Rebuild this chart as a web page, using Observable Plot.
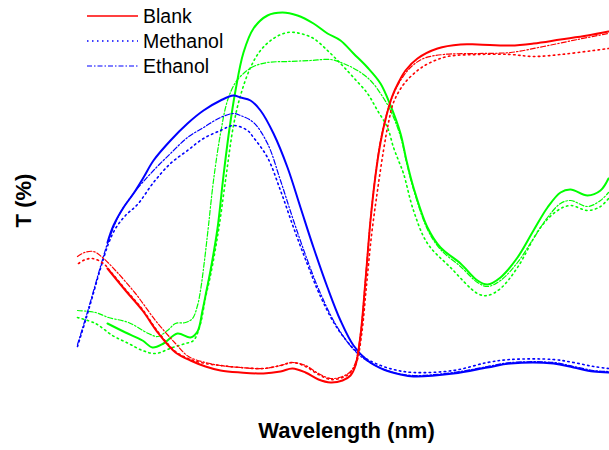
<!DOCTYPE html>
<html>
<head>
<meta charset="utf-8">
<script src="https://cdn.jsdelivr.net/npm/d3@7"></script>
<script src="https://cdn.jsdelivr.net/npm/@observablehq/plot@0.6"></script>
<style>
  html, body { margin: 0; padding: 0; background: #fff; }
  #wrap { position: relative; width: 609px; height: 450px; font-family: "Liberation Sans", Arial, sans-serif; }
  #legend { position: absolute; left: 0; top: 0; }
</style>
</head>
<body>
<div id="wrap"><div id="chart"></div><svg id="legend" width="260" height="80"></svg></div>
<script>
// ---- data (wavelength in nm, transmittance in %) ----
const solvents = ["Blank", "Methanol", "Ethanol"];
const filterColors = ["#ff0000", "#00ff00", "#0000ff"];

// Red filter
const redBlankWl = [330,348,365,381,398,413,428,443,463,486,503,515,528,541,553,565,573,578,583,588,593,598,603,609,615,621,628,640,660,683,700,733,756,783,810,831];
const redBlankT  = [33,27.5,22.5,16.75,12,10,8.5,7.5,7,6.75,7.25,8,7,5.25,4.5,5,6.25,8.75,16.25,30,45,56.25,64.5,71.25,76.25,79.5,82.5,85.5,88,89,89,88.75,89.25,90.25,91.25,92.25];
const redMethWl  = [301,308,315,326,333,348,365,381,398,413,428,443,463,486,503,515,528,541,553,565,573,579,584,589,594,600,606,611,616,626,640,653,670,700,733,756,783,816,831];
const redMethT   = [34.25,35.25,35.5,34.25,32.25,27.75,22.75,17,12.25,10.25,9.25,8.75,8.25,8,8.75,9.5,8.5,6.5,5.25,5.75,7,9.5,16.25,28.75,41.25,52.5,62.5,69.5,74.5,79,82.5,84.5,86,86.5,86.5,86,86.5,87.5,88];
const redEthWl   = [300,307,316,325,338,358,378,398,411,428,443,463,486,503,515,528,541,553,565,573,578,583,588,593,598,603,609,615,623,633,646,666,700,733,766,800,831];
const redEthT    = [36,37,37.25,35.75,32.5,26.75,20,14.25,11,9.5,8.75,8.25,8,8.75,9.5,8.75,6.75,5.5,6,7.25,9.5,16.75,30.5,45.5,56.5,65,71.5,76,80,83.25,85.5,86.5,86.75,87,88.5,90.25,91.75];

// Green filter
const greenBlankWl = [330,348,365,375,386,400,413,420,425,429,433,440,446,452,458,466,476,490,505,520,536,550,563,576,590,603,613,623,629,636,650,663,683,700,710,723,740,756,770,783,793,810,823,831];
const greenBlankT  = [19.25,17,15,13.25,14.25,16.75,15.75,17.25,22.5,27.5,32.5,43,56.25,68,77.5,87,93,96.25,97,96.25,94.25,91.75,90,86.75,83.25,79.25,73.75,66.75,60,53.25,43.25,38.25,34.25,30,29,30.75,35.75,42.5,48.25,52,52.75,51.25,52.5,55.5];
const greenMethWl  = [300,318,335,351,365,378,395,408,416,423,428,433,441,448,456,463,473,483,496,510,523,536,550,563,576,590,600,610,616,621,626,636,650,673,700,710,723,740,763,780,793,810,823,831];
const greenMethT   = [20.75,19.25,16.25,14.25,12.5,11.75,13.25,14.25,15,19.25,25.75,31.25,42.5,55,68.75,76.25,83.25,87.5,90.5,92,91.75,90.5,87.5,84.25,80.75,76.75,72.5,68.25,63.25,60,56.75,47.5,39.25,33.25,26.75,26.25,28,33.25,43.25,47.5,48.75,47.5,48.5,50.5];
const greenEthWl   = [300,318,331,351,371,380,390,398,408,415,420,423,427,431,436,443,450,458,466,476,490,510,533,553,566,580,593,605,613,623,629,636,650,663,683,700,710,723,740,756,770,783,793,810,823,831];
const greenEthT    = [22.5,22,20.75,19.5,16.75,16,17.5,19.25,19.5,20.5,23.75,27.5,35,43.75,55,66.75,75,79.5,81.75,83.5,84.5,84.75,85,85.25,84.25,82.5,80,76,72.5,66,59.5,52.75,42.75,37.75,33.5,29.5,28.5,30,34.5,40.5,45.75,49.25,50,48.5,50,52];

// Blue filter
const blueBlankWl = [330,336,346,356,366,376,393,410,426,443,456,463,473,483,496,510,523,536,550,563,576,590,606,623,636,676,710,733,776,796,816,831];
const blueBlankT  = [39.5,43.75,48.25,51.75,55.75,60,65,69.25,72.5,75,76.25,75.75,75,72.5,66.75,58.25,48.25,38.25,28.25,20,13.75,10,7.75,6.5,6,6.75,8.25,9.25,9.25,8.25,7.25,7];
const blueMethWl  = [300,308,315,323,331,338,348,360,376,393,410,426,443,456,470,476,490,503,516,530,543,560,580,596,616,636,676,710,733,776,796,816,831];
const blueMethT   = [13.5,20,26,33,39.25,43,46.25,49,54.5,59.25,62.5,65.5,67.5,68.75,67.5,65.75,60.75,52.5,43.25,34,26,18,12,9.5,7.75,7,7.5,9.5,10.25,10.25,9.5,8.5,8];
const blueEthWl   = [300,308,315,323,331,343,360,376,393,410,426,443,456,463,476,490,503,516,530,543,560,580,596,616,636,676,710,733,776,796,816,831];
const blueEthT    = [14,20.5,26.5,33.5,40,47,53,57.5,61.75,65.75,68.25,70.75,71.75,71.25,69.5,64.25,55,45,35,26.75,18.25,11.75,9,7,6.25,7,8.5,9.5,9.5,8.5,7.5,7.25];

// ---- build series ----
const zip = (wl, t) => wl.map((w, i) => ({wl: w, T: t[i]}));
const series = [
  {color: filterColors[1], solvent: "Blank",    rows: zip(greenBlankWl, greenBlankT)},
  {color: filterColors[1], solvent: "Methanol", rows: zip(greenMethWl, greenMethT)},
  {color: filterColors[1], solvent: "Ethanol",  rows: zip(greenEthWl, greenEthT)},
  {color: filterColors[2], solvent: "Blank",    rows: zip(blueBlankWl, blueBlankT)},
  {color: filterColors[2], solvent: "Methanol", rows: zip(blueMethWl, blueMethT)},
  {color: filterColors[2], solvent: "Ethanol",  rows: zip(blueEthWl, blueEthT)},
  {color: filterColors[0], solvent: "Blank",    rows: zip(redBlankWl, redBlankT)},
  {color: filterColors[0], solvent: "Methanol", rows: zip(redMethWl, redMethT)},
  {color: filterColors[0], solvent: "Ethanol",  rows: zip(redEthWl, redEthT)}
];
const styleFor = {
  Blank:    {strokeWidth: 2,   strokeDasharray: null},
  Methanol: {strokeWidth: 1.6, strokeDasharray: "1.5,3.5"},
  Ethanol:  {strokeWidth: 1.2, strokeDasharray: "5,2,1.5,2"}
};

const marks = series.map(s => Plot.line(s.rows, {
  x: "wl", y: "T", stroke: s.color, curve: "catmull-rom",
  strokeWidth: styleFor[s.solvent].strokeWidth,
  strokeDasharray: styleFor[s.solvent].strokeDasharray
}));

marks.push(Plot.text(["Wavelength (nm)"], {
  frameAnchor: "bottom", textAnchor: "middle", dy: 37, dx: 3, fontSize: 22, fontWeight: "bold", fill: "#000"
}));
marks.push(Plot.text(["T (%)"], {
  frameAnchor: "left", textAnchor: "middle", dx: -54, dy: 0, rotate: -90, fontSize: 22, fontWeight: "bold", fill: "#000"
}));

const chart = Plot.plot({
  width: 609, height: 450,
  marginLeft: 77, marginRight: 0, marginTop: 0, marginBottom: 50,
  x: {domain: [300, 832], axis: null},
  y: {domain: [0, 100], axis: null},
  style: {fontFamily: "'Liberation Sans', Arial, sans-serif", background: "#fff", overflow: "visible"},
  marks
});
document.getElementById("chart").appendChild(chart);

// ---- legend ----
const legendItems = [
  {label: solvents[0], color: "#ff0000", ...styleFor.Blank, strokeWidth: 1.5},
  {label: solvents[1], color: "#0000ff", ...styleFor.Methanol, strokeWidth: 1.3},
  {label: solvents[2], color: "#0000ff", ...styleFor.Ethanol, strokeWidth: 1.2}
];
const lg = d3.select("#legend");
legendItems.forEach((d, i) => {
  const y = 16 + i * 25;
  lg.append("line").attr("x1", 87).attr("x2", 138).attr("y1", y).attr("y2", y)
    .attr("stroke", d.color).attr("stroke-width", d.strokeWidth)
    .attr("stroke-dasharray", d.strokeDasharray);
  lg.append("text").attr("x", 143).attr("y", y + 7)
    .attr("font-size", 19.5).attr("fill", "#000")
    .attr("font-family", "'Liberation Sans', Arial, sans-serif")
    .text(d.label);
});
</script>
</body>
</html>
